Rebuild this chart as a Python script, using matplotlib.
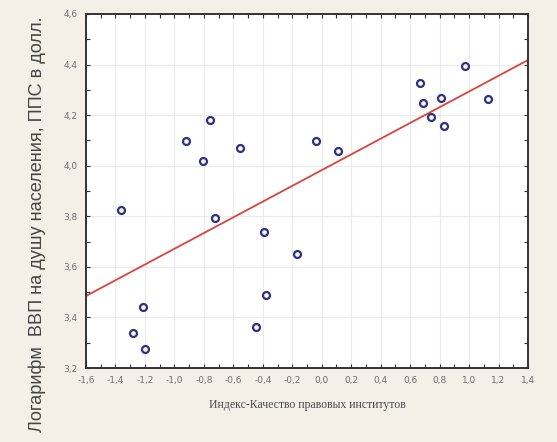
import matplotlib
matplotlib.use("Agg")
import matplotlib.pyplot as plt
from matplotlib.ticker import MultipleLocator, FuncFormatter
import numpy as np

# index of legal institutions quality (x) vs log GDP per capita, PPP (y)
legal_index = [-1.362, -1.281, -1.213, -1.200, -0.921, -0.806, -0.758, -0.724,
               -0.555, -0.446, -0.392, -0.378, -0.168, -0.039, 0.111, 0.667,
               0.688, 0.742, 0.810, 0.830, 0.973, 1.129]
log_gdp = [3.825, 3.338, 3.441, 3.275, 4.097, 4.018, 4.180, 3.793,
           4.070, 3.362, 3.738, 3.489, 3.651, 4.097, 4.058, 4.326,
           4.247, 4.192, 4.267, 4.157, 4.394, 4.263]

x_label = 'Индекс-Качество правовых институтов'
y_label = 'Логарифм  ВВП на душу населения, ППС в долл.'

bg = '#f4f0e8'
navy = '#2e3182'
red = '#d8453a'

if __name__ == "__main__":
    fig = plt.figure(figsize=(5.57, 4.42), dpi=100, facecolor=bg)
    ax = fig.add_axes([0.1544, 0.1674, 0.7935, 0.801])
    ax.set_facecolor('white')

    ax.set_xlim(-1.6, 1.4)
    ax.set_ylim(3.2, 4.6)

    # ticks every 0.2, small inner ticks every 0.1 on all sides
    ax.xaxis.set_major_locator(MultipleLocator(0.2))
    ax.yaxis.set_major_locator(MultipleLocator(0.2))
    ax.xaxis.set_minor_locator(MultipleLocator(0.1))
    ax.yaxis.set_minor_locator(MultipleLocator(0.1))
    comma = FuncFormatter(lambda v, p: ('%.1f' % v).replace('.', ','))
    ax.xaxis.set_major_formatter(comma)
    ax.yaxis.set_major_formatter(comma)
    ax.tick_params(which='both', direction='in', top=True, right=True,
                   length=3, width=0.8, color='#333333',
                   labelsize=6.5, labelcolor='#707070', pad=6)
    ax.grid(which='major', color='#ebebeb', linewidth=0.8)
    ax.set_axisbelow(True)
    for s in ax.spines.values():
        s.set_color('#333333')
        s.set_linewidth(1.4)

    # regression line
    k, b = np.polyfit(legal_index, log_gdp, 1)
    xs = np.array([-1.6, 1.4])
    ax.plot(xs, k * xs + b, color=red, linewidth=1.3, zorder=2)

    ax.plot(legal_index, log_gdp, linestyle='none', marker='o', markersize=5,
            markerfacecolor='none', markeredgecolor=navy, markeredgewidth=1.6,
            zorder=3)

    ax.set_xlabel(x_label, family='Liberation Serif', fontsize=8.5,
                  color='#4a4a4a', labelpad=10)
    fig.text(0.067, 0.492, y_label, rotation=90, ha='center', va='center',
             family='Liberation Sans', fontsize=13.1, color='#444444')

    plt.savefig("out.png", dpi=100, facecolor=bg)
